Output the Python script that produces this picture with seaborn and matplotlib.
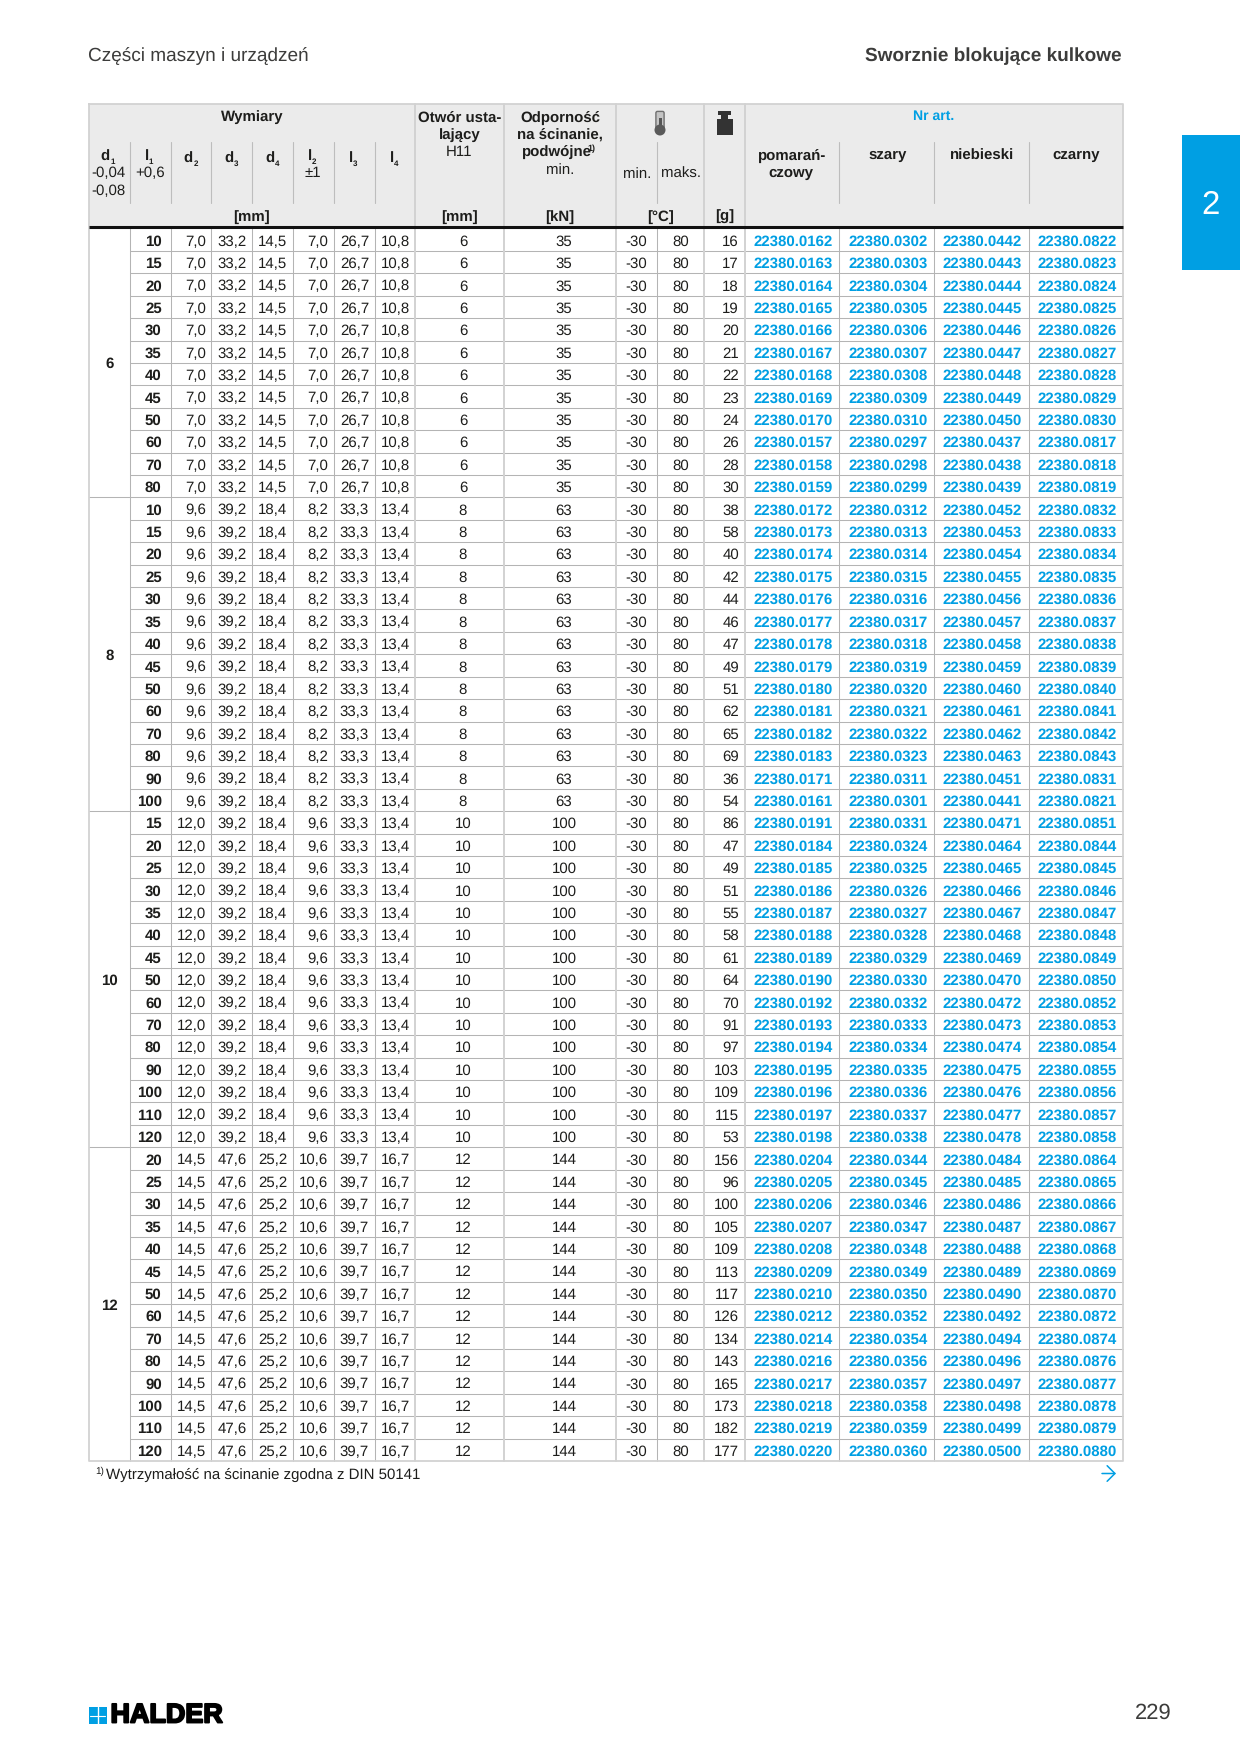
import numpy as np
import pandas as pd
import seaborn as sns
import matplotlib.pyplot as plt
from matplotlib.patches import Rectangle, Circle, FancyBboxPatch
import matplotlib.patheffects as pe

#### table data, one small list per column

group_d1 = ['6', '8', '10', '12']
group_d2 = ['7,0', '9,6', '12,0', '14,5']
group_d3 = ['33,2', '39,2', '39,2', '47,6']
group_d4 = ['14,5', '18,4', '18,4', '25,2']
group_l2 = ['7,0', '8,2', '9,6', '10,6']
group_l3 = ['26,7', '33,3', '33,3', '39,7']
group_l4 = ['10,8', '13,4', '13,4', '16,7']
group_hole = ['6', '8', '10', '12']
group_shear = ['35', '63', '100', '144']
group_sizes = [12, 14, 15, 14]

l1 = [10, 15, 20, 25, 30, 35, 40, 45, 50, 60, 70, 80,
      10, 15, 20, 25, 30, 35, 40, 45, 50, 60, 70, 80, 90, 100,
      15, 20, 25, 30, 35, 40, 45, 50, 60, 70, 80, 90, 100, 110, 120,
      20, 25, 30, 35, 40, 45, 50, 60, 70, 80, 90, 100, 110, 120]

weight = [16, 17, 18, 19, 20, 21, 22, 23, 24, 26, 28, 30,
          38, 58, 40, 42, 44, 46, 47, 49, 51, 62, 65, 69, 36, 54,
          86, 47, 49, 51, 55, 58, 61, 64, 70, 91, 97, 103, 109, 115, 53,
          156, 96, 100, 105, 109, 113, 117, 126, 134, 143, 165, 173, 182, 177]

art_orange = ['0162', '0163', '0164', '0165', '0166', '0167', '0168', '0169', '0170', '0157', '0158', '0159',
              '0172', '0173', '0174', '0175', '0176', '0177', '0178', '0179', '0180', '0181', '0182', '0183', '0171', '0161',
              '0191', '0184', '0185', '0186', '0187', '0188', '0189', '0190', '0192', '0193', '0194', '0195', '0196', '0197', '0198',
              '0204', '0205', '0206', '0207', '0208', '0209', '0210', '0212', '0214', '0216', '0217', '0218', '0219', '0220']
art_grey = ['0302', '0303', '0304', '0305', '0306', '0307', '0308', '0309', '0310', '0297', '0298', '0299',
            '0312', '0313', '0314', '0315', '0316', '0317', '0318', '0319', '0320', '0321', '0322', '0323', '0311', '0301',
            '0331', '0324', '0325', '0326', '0327', '0328', '0329', '0330', '0332', '0333', '0334', '0335', '0336', '0337', '0338',
            '0344', '0345', '0346', '0347', '0348', '0349', '0350', '0352', '0354', '0356', '0357', '0358', '0359', '0360']
art_blue = ['0442', '0443', '0444', '0445', '0446', '0447', '0448', '0449', '0450', '0437', '0438', '0439',
            '0452', '0453', '0454', '0455', '0456', '0457', '0458', '0459', '0460', '0461', '0462', '0463', '0451', '0441',
            '0471', '0464', '0465', '0466', '0467', '0468', '0469', '0470', '0472', '0473', '0474', '0475', '0476', '0477', '0478',
            '0484', '0485', '0486', '0487', '0488', '0489', '0490', '0492', '0494', '0496', '0497', '0498', '0499', '0500']
art_black = ['0822', '0823', '0824', '0825', '0826', '0827', '0828', '0829', '0830', '0817', '0818', '0819',
             '0832', '0833', '0834', '0835', '0836', '0837', '0838', '0839', '0840', '0841', '0842', '0843', '0831', '0821',
             '0851', '0844', '0845', '0846', '0847', '0848', '0849', '0850', '0852', '0853', '0854', '0855', '0856', '0857', '0858',
             '0864', '0865', '0866', '0867', '0868', '0869', '0870', '0872', '0874', '0876', '0877', '0878', '0879', '0880']

#### page layout, all in pixels of the 1240x1754 page

W, H = 1240, 1754
edges = [89, 129.6, 170.7, 211.4, 252, 293, 333.6, 374.6, 415.4, 503.6,
         616.4, 656.8, 704.3, 744.5, 839.4, 933.9, 1028.8, 1123]
top, head_bottom, body_top, body_bottom = 104, 227, 228.5, 1461
blue = '#009FE3'
ink = '#1d1d1b'
grid_col = '#b4b4b4'
major_col = '#d2d2d2'

sns.set_theme(style='white')
plt.rcParams['font.family'] = ['Liberation Sans', 'DejaVu Sans']
plt.rcParams['text.color'] = ink
plt.rcParams['text.hinting'] = 'no_hinting'
plt.rcParams['text.hinting_factor'] = 1

fs = 10.7
fig = plt.figure(figsize=(W / 100, H / 100), dpi=100)

n = len(l1)
rep = lambda v: list(np.repeat(v, group_sizes))
blank = [''] * n
art_style = {'fontweight': 'bold', 'color': blue}
# values, text style, right padding (None = centred), sideways shift of centred text
columns = [
    (blank, {}, None, 0),
    ([str(v) for v in l1], {'fontweight': 'bold'}, 9, 0),
    (rep(group_d2), {}, 5.5, 0),
    (rep(group_d3), {}, 5.5, 0),
    (rep(group_d4), {}, 5.5, 0),
    (rep(group_l2), {}, 5.5, 0),
    (rep(group_l3), {}, 5.5, 0),
    (rep(group_l4), {}, 5.5, 0),
    (rep(group_hole), {}, None, 3.5),
    (rep(group_shear), {}, None, 4),
    (['-30'] * n, {}, None, 0),
    (['80'] * n, {}, None, 0),
    ([str(v) for v in weight], {}, 5.5, 0),
    (['22380.' + v for v in art_orange], art_style, None, 1),
    (['22380.' + v for v in art_grey], art_style, None, 1),
    (['22380.' + v for v in art_blue], art_style, None, 1),
    (['22380.' + v for v in art_black], art_style, None, 1),
]

row_h = (body_bottom - body_top) / n

# one heatmap per column because the columns have different widths
for i, (vals, style, pad, shift) in enumerate(columns):
    x0, x1 = edges[i], edges[i + 1]
    ax = fig.add_axes([x0 / W, 1 - body_bottom / H, (x1 - x0) / W, (body_bottom - body_top) / H])
    frame = pd.DataFrame(np.zeros((n, 1)))
    kws = {'fontsize': fs, 'color': ink}
    kws.update(style)
    sns.heatmap(frame, ax=ax, cbar=False, cmap=['white'], annot=np.array(vals).reshape(-1, 1), fmt='',
                annot_kws=kws, xticklabels=False, yticklabels=False)
    for t in ax.texts:
        tx, ty = t.get_position()
        t.set_y(ty + 2 / row_h)
        if pad is not None:
            t.set_ha('right')
            t.set_x(1 - pad / (x1 - x0))
        else:
            t.set_x(0.5 + shift / (x1 - x0))
    ax.set_axis_off()

#### everything around the cells goes on a page sized axes on top

page = fig.add_axes([0, 0, 1, 1])
page.set_xlim(0, W)
page.set_ylim(H, 0)
page.set_axis_off()
page.patch.set_alpha(0)

# header block
page.add_patch(Rectangle((edges[0], top), edges[-1] - edges[0], head_bottom - top, fc='#ebebeb', ec='none'))

# row lines, the d1 column only has them between the groups
for r in range(1, n):
    page.plot([edges[1], edges[-1]], [body_top + r * row_h] * 2, color=grid_col, lw=0.75)

pos = 0
for d, size in zip(group_d1, group_sizes):
    page.text((edges[0] + edges[1]) / 2, body_top + (pos + size / 2) * row_h + 1.5, d,
              fontsize=fs, fontweight='bold', ha='center', va='center')
    pos += size
    if pos < n:
        page.plot([edges[0], edges[1]], [body_top + pos * row_h] * 2, color=grid_col, lw=0.75)

# column lines
for i in [1, 2, 3, 4, 5, 6, 7, 11, 14, 15, 16]:
    page.plot([edges[i]] * 2, [142, 203], color='#bdbdbd', lw=0.8)
    page.plot([edges[i]] * 2, [head_bottom, body_bottom], color=grid_col, lw=0.75)
for i in [8, 9, 10, 12, 13]:
    page.plot([edges[i]] * 2, [top, body_bottom], color=major_col, lw=1.4)
page.plot([edges[0], edges[-1], edges[-1], edges[0], edges[0]], [top, top, body_bottom, body_bottom, top],
          color=major_col, lw=1.3)
page.plot([edges[0], edges[-1]], [head_bottom, head_bottom], color='#111111', lw=2.2, solid_capstyle='butt')


def label(x, y, s, weight='normal', size=fs, color=ink, ha='center'):
    page.text(x, y + 1.5, s, fontsize=size, fontweight=weight, color=color, ha=ha, va='center')


def sub_label(x, y, s, sub):
    label(x - 3, y, s, weight='bold')
    label(x + (4.5 if s == 'd' else 1), y + 5, sub, weight='bold', size=5.5)


# header texts
label(252.5, 116, 'Wymiary', 'bold')
sub_label(108, 155, 'd', '1')
label(108, 171.5, '-0,04')
label(108, 189.5, '-0,08')
sub_label(150, 155, 'l', '1')
label(150, 171.5, '+0,6')
sub_label(191, 157, 'd', '2')
sub_label(231.5, 157, 'd', '3')
sub_label(272.5, 157, 'd', '4')
sub_label(313, 155, 'l', '2')
label(313, 171.5, '±1')
sub_label(354, 157, 'l', '3')
sub_label(395, 157, 'l', '4')
label(459.5, 116, 'Otwór usta-', 'bold')
label(459.5, 133.5, 'lający', 'bold')
label(459.5, 150.5, 'H11')
label(560, 116, 'Odporność', 'bold')
label(560, 133.5, 'na ścinanie,', 'bold')
label(556, 150.5, 'podwójne', 'bold')
label(591, 147.5, '1)', 'bold', size=6.5)
label(560, 168.5, 'min.')
label(637, 172.5, 'min.')
label(681, 172.5, 'maks.')
label(934, 114.5, 'Nr art.', 'bold', size=10, color=blue)
label(791, 154, 'pomarań-', 'bold')
label(791, 172, 'czowy', 'bold')
label(888, 154, 'szary', 'bold')
label(981, 154, 'niebieski', 'bold')
label(1076, 154, 'czarny', 'bold')
label(252, 215.5, '[mm]', 'bold')
label(459.5, 215.5, '[mm]', 'bold')
label(560, 215.5, '[kN]', 'bold')
label(660.5, 215.5, '[°C]', 'bold')
label(724.5, 215.5, '[g]', 'bold')

# thermometer and weight icons
page.add_patch(FancyBboxPatch((657.5, 113), 5, 16, boxstyle='round,pad=1.6', fc='#c4c4c4', ec='#6f6f6f', lw=1))
page.add_patch(Rectangle((658.5, 118), 3.5, 12, fc='#555555', ec='none'))
page.add_patch(Circle((660, 130), 5.5, fc='#5a5a5a', ec='none'))
page.add_patch(Rectangle((718, 111), 13, 4, fc='#333333', ec='none'))
page.add_patch(Rectangle((721, 115), 7, 4, fc='#333333', ec='none'))
page.add_patch(Rectangle((716.5, 119), 16, 16, fc='#333333', ec='none'))

# page furniture
label(88, 55, 'Części maszyn i urządzeń', size=13.45, color='#3c3c3b', ha='left')
label(1121.5, 55, 'Sworznie blokujące kulkowe', 'bold', size=13.4, color='#3c3c3b', ha='right')
page.add_patch(Rectangle((1182, 135), W - 1182, 135, fc=blue, ec='none'))
page.text(1210.5, 205, '2', fontsize=24, color='white', ha='center', va='center')

label(95, 1470, '1)', size=7, ha='left')
label(106, 1473.5, 'Wytrzymałość na ścinanie zgodna z DIN 50141', size=10.5, ha='left')
page.annotate('', xy=(1116, 1473.5), xytext=(1102, 1473.5),
              arrowprops=dict(arrowstyle='->,head_length=0.4,head_width=0.4', color=blue, lw=1.1, mutation_scale=14,
                              shrinkA=0, shrinkB=0))

# logo
page.add_patch(Rectangle((88.5, 1707), 18, 17, fc=blue, ec='none'))
page.plot([97.5, 97.5], [1707, 1724], color='white', lw=1)
page.plot([90, 105], [1716, 1716], color='white', lw=0.8)
logo = page.text(110.5, 1715.5, 'HALDER', fontsize=19.4, fontweight='bold', color='#000000', ha='left', va='center')
logo.set_path_effects([pe.withStroke(linewidth=1.4, foreground='black')])
label(1172, 1712, '229', size=15.5, color='#3c3c3b', ha='right')

fig.savefig('out.png', dpi=100)
